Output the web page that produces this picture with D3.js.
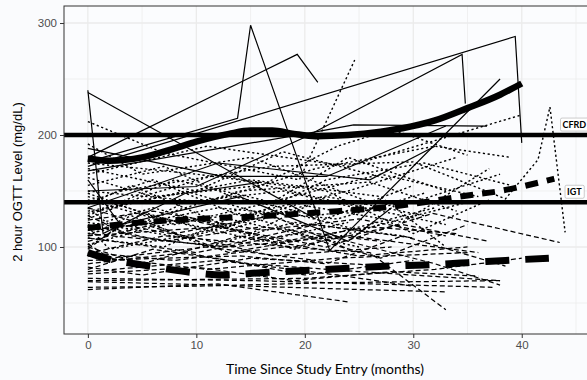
<!DOCTYPE html>
<html>
<head>
<meta charset="utf-8">
<script src="https://cdn.jsdelivr.net/npm/d3@7"></script>
<style>
  html, body { margin: 0; padding: 0; background: #fafbfd; }
  svg { display: block; }
</style>
</head>
<body>
<div id="chart"></div>
<script>
// axis ticks
const xTicks = [0, 10, 20, 30, 40];
const xMinorTicks = [5, 15, 25, 35, 45];
const yTicks = [100, 200, 300];
const yMinorTicks = [50, 150, 250];

// diagnostic cut-offs (mg/dL)
const cutoffNames = ['CFRD', 'IGT'];
const cutoffValues = [200, 140];
const cutoffLabelValues = [209, 149];

// individual trajectories, [months, mg/dL]
const cfrdSubjects = [
    [[0, 240], [1.4, 112], [9, 148], [16, 158]],
    [[0, 238], [21, 125]],
    [[0, 176], [13.8, 215], [15, 298], [22.3, 97], [38, 250]],
    [[0, 180], [19.3, 272], [21.2, 247]],
    [[0, 172], [39.4, 288], [40, 193]],
    [[0, 150], [10, 154], [20, 198], [34.5, 272], [34.8, 228]],
    [[0, 168], [20, 201], [24.5, 209], [36.8, 208]],
    [[0, 188], [12.4, 163], [22, 163], [25, 175], [33, 208]],
    [[0, 135], [12, 175], [26, 160], [32, 190]],
    [[0, 160], [3, 120], [14, 145], [24, 105], [28, 135]]
];

const igtSubjects = [
    [[0, 212], [7, 184], [19.5, 160], [24.6, 267]],
    [[0, 165], [11, 190], [24, 172], [40, 218]],
    [[3, 150], [17, 172], [30, 176], [38.5, 143], [41.5, 178], [42.6, 225], [44, 113]],
    [[0, 140], [6, 160], [14, 128], [24, 150], [34, 180]],
    [[0, 130], [9, 150], [20, 118], [30, 155]],
    [[0, 125], [5, 145], [12, 165], [23, 140], [33, 120]],
    [[0, 148], [8, 120], [16, 138], [27, 165], [36, 145]],
    [[0, 118], [6, 135], [15, 112], [22, 145], [31, 128]],
    [[0, 170], [10, 150], [18, 185], [28, 160]],
    [[0, 110], [4, 128], [11, 100], [19, 122], [29, 110]],
    [[0, 155], [7, 172], [13, 146], [21, 128], [30, 140], [38, 165]],
    [[0, 135], [3, 112], [9, 140], [18, 150], [26, 132]],
    [[0, 102], [6, 118], [14, 130], [21, 108], [32, 135]],
    [[0, 145], [12, 112], [20, 137], [29, 122], [37, 170]],
    [[0, 128], [8, 160], [17, 140], [24, 180], [33, 150]],
    [[0, 192], [5, 165], [15, 180], [26, 140]],
    [[0, 115], [10, 125], [19, 98], [27, 120]],
    [[0, 162], [6, 145], [16, 155], [23, 190], [28, 205], [35, 182]],
    [[0, 122], [9, 108], [18, 132], [25, 115], [35, 140]],
    [[0, 138], [4, 155], [13, 118], [22, 160], [31, 175], [39, 155]],
    [[0, 108], [7, 100], [13, 125], [25, 100]],
    [[0, 175], [10, 165], [22, 150], [30, 112], [37, 142]],
    [[0, 100], [5, 130], [16, 105], [24, 122]],
    [[0, 150], [11, 140], [21, 170], [32, 190], [39, 180]],
    [[0, 132], [15, 160], [27, 145], [33, 100]],
    [[0, 118], [2, 98], [10, 112], [20, 140]],
    [[0, 142], [6, 126], [14, 150], [26, 158], [34, 132]],
    [[0, 112], [12, 135], [23, 125], [31, 148]]
];

const ngtSubjects = [
    [[0, 72], [15, 70], [30, 66], [37.3, 64]],
    [[0, 69], [12, 66], [25, 62], [33, 60]],
    [[0, 64], [10, 65], [22, 68], [38, 70]],
    [[0, 62], [12, 67], [24, 51]],
    [[0, 95], [8, 88], [18, 100], [26, 95], [33, 44]],
    [[0, 80], [6, 98], [15, 85], [25, 78], [38, 70]],
    [[0, 110], [12, 118], [22, 100], [31.8, 130], [43.5, 104]],
    [[0, 100], [5, 85], [14, 110], [25, 92], [35, 100]],
    [[0, 85], [9, 95], [20, 75], [30, 88]],
    [[0, 120], [7, 105], [16, 118], [27, 105]],
    [[0, 105], [6, 120], [13, 95], [22, 110], [32, 85], [38, 66]],
    [[0, 92], [11, 80], [23, 90], [35, 95]],
    [[0, 128], [4, 110], [12, 100], [21, 120], [30, 108]],
    [[0, 76], [10, 82], [19, 70], [28, 78], [36, 74]],
    [[0, 98], [3, 120], [10, 108], [17, 92], [28, 100]],
    [[0, 115], [9, 125], [18, 105], [26, 118], [34, 112]],
    [[0, 88], [14, 92], [22, 85], [29, 110], [38.5, 83]],
    [[0, 135], [8, 112], [17, 128], [24, 98]],
    [[0, 82], [5, 75], [15, 90], [26, 84]],
    [[0, 108], [10, 95], [19, 112], [27, 90], [35, 120]],
    [[0, 70], [20, 72], [32, 80], [40, 90]],
    [[0, 124], [6, 132], [16, 115], [25, 125], [33, 110]],
    [[0, 94], [7, 110], [19, 100], [29, 120], [37, 105]],
    [[0, 78], [12, 88], [23, 75], [30, 65]],
    [[0, 103], [2, 90], [11, 100], [21, 88]],
    [[0, 112], [13, 100], [24, 110], [36, 95]]
];

// smoothed group means
const cfrdFitTime = [0, 2, 5, 8, 10, 13, 15, 17, 19, 21, 24, 27, 29, 32, 35, 38, 40];
const cfrdFitValue = [179, 177, 180, 188, 194, 201, 204, 204, 201, 199, 200, 203, 206, 213, 224, 236, 246];
const igtFitTime = [0, 5, 10, 15, 20, 23, 27, 31, 35, 38, 40, 43];
const igtFitValue = [117, 122, 125, 127, 130, 132, 135, 140, 146, 150, 154, 161];
const ngtFitTime = [0, 2, 5, 9, 12.5, 16, 20, 24, 28, 31, 35, 38.5, 42.5];
const ngtFitValue = [95, 89, 84, 78, 75, 77, 79, 81, 83, 84, 86, 88, 90];

const width = 587;
const height = 380;
const margin = { top: 6, right: -2, bottom: 46, left: 64 };

const x = d3.scaleLinear().domain([-2.2, 46.2]).range([margin.left, width - margin.right]);
const y = d3.scaleLinear().domain([22.3, 315.2]).range([height - margin.bottom, margin.top]);

const svg = d3
    .select('#chart')
    .append('svg')
    .attr('width', width)
    .attr('height', height)
    .attr('viewBox', [0, 0, width, height]);

svg.append('clipPath')
    .attr('id', 'panel-clip')
    .append('rect')
    .attr('x', margin.left)
    .attr('y', margin.top)
    .attr('width', width - margin.right - margin.left)
    .attr('height', height - margin.bottom - margin.top);

svg.append('rect')
    .attr('x', margin.left)
    .attr('y', margin.top)
    .attr('width', width - margin.right - margin.left)
    .attr('height', height - margin.bottom - margin.top)
    .attr('fill', '#fbfcfe');

// grid
const grid = svg.append('g').attr('stroke', '#ebebeb');
grid.selectAll('.vminor')
    .data(xMinorTicks)
    .join('line')
    .attr('x1', (d) => x(d)).attr('x2', (d) => x(d))
    .attr('y1', margin.top).attr('y2', height - margin.bottom)
    .attr('stroke-width', 0.7);
grid.selectAll('.hminor')
    .data(yMinorTicks)
    .join('line')
    .attr('x1', margin.left).attr('x2', width - margin.right)
    .attr('y1', (d) => y(d)).attr('y2', (d) => y(d))
    .attr('stroke-width', 0.7);
grid.selectAll('.vmajor')
    .data(xTicks)
    .join('line')
    .attr('x1', (d) => x(d)).attr('x2', (d) => x(d))
    .attr('y1', margin.top).attr('y2', height - margin.bottom)
    .attr('stroke-width', 1.3);
grid.selectAll('.hmajor')
    .data(yTicks)
    .join('line')
    .attr('x1', margin.left).attr('x2', width - margin.right)
    .attr('y1', (d) => y(d)).attr('y2', (d) => y(d))
    .attr('stroke-width', 1.3);

const plot = svg.append('g').attr('clip-path', 'url(#panel-clip)');

const line = d3.line().x((d) => x(d[0])).y((d) => y(d[1]));

const subjectGroups = [
    { subjects: ngtSubjects, dash: '5,3', w: 1.25 },
    { subjects: igtSubjects, dash: '2.2,2.6', w: 1.4 },
    { subjects: cfrdSubjects, dash: null, w: 1.2 }
];

subjectGroups.forEach((g) => {
    plot.append('g')
        .attr('fill', 'none')
        .attr('stroke', '#000')
        .attr('stroke-width', g.w)
        .attr('stroke-dasharray', g.dash)
        .selectAll('path')
        .data(g.subjects)
        .join('path')
        .attr('d', line);
});

// cut-off lines
plot.append('g')
    .selectAll('line')
    .data(cutoffValues)
    .join('line')
    .attr('x1', margin.left)
    .attr('x2', width - margin.right)
    .attr('y1', (d) => y(d))
    .attr('y2', (d) => y(d))
    .attr('stroke', '#000')
    .attr('stroke-width', 4.5);

const fitLine = d3.line().curve(d3.curveMonotoneX).x((d) => x(d[0])).y((d) => y(d[1]));
const fits = [
    { t: cfrdFitTime, v: cfrdFitValue, dash: null, w: 6.5 },
    { t: igtFitTime, v: igtFitValue, dash: '13,9', w: 6 },
    { t: ngtFitTime, v: ngtFitValue, dash: '24,16', w: 7 }
];
fits.forEach((f) => {
    plot.append('path')
        .datum(d3.zip(f.t, f.v))
        .attr('fill', 'none')
        .attr('stroke', '#000')
        .attr('stroke-width', f.w)
        .attr('stroke-dasharray', f.dash)
        .attr('d', fitLine);
});

// cut-off labels
const labels = svg.append('g')
    .selectAll('g')
    .data(d3.zip(cutoffNames, cutoffLabelValues))
    .join('g')
    .attr('transform', (d) => `translate(${x(44.85)},${y(d[1])})`);
labels.append('rect');
labels.append('text')
    .attr('text-anchor', 'middle')
    .attr('dy', '0.35em')
    .attr('font-family', 'Lato, sans-serif')
    .attr('font-weight', 'bold')
    .attr('font-size', 9)
    .text((d) => d[0]);
labels.each(function () {
    const g = d3.select(this);
    const b = g.select('text').node().getBBox();
    g.select('rect')
        .attr('x', b.x - 2)
        .attr('y', b.y - 1)
        .attr('width', b.width + 4)
        .attr('height', b.height + 2)
        .attr('rx', 1.5)
        .attr('fill', '#fff')
        .attr('stroke', '#999')
        .attr('stroke-width', 0.5);
});

// axes
svg.append('g')
    .attr('transform', `translate(${margin.left},0)`)
    .call(d3.axisLeft(y).tickValues(yTicks).tickSize(4).tickPadding(3))
    .call((g) => g.select('.domain').remove())
    .call((g) => g.selectAll('.tick line').attr('stroke', '#333'))
    .call((g) => g.selectAll('.tick text')
        .attr('fill', '#4d4d4d')
        .attr('font-size', 11.5)
        .attr('font-family', 'Liberation Sans, Arial, sans-serif'));

svg.append('g')
    .attr('transform', `translate(0,${height - margin.bottom})`)
    .call(d3.axisBottom(x).tickValues(xTicks).tickSize(4).tickPadding(3))
    .call((g) => g.select('.domain').remove())
    .call((g) => g.selectAll('.tick line').attr('stroke', '#333'))
    .call((g) => g.selectAll('.tick text')
        .attr('fill', '#4d4d4d')
        .attr('font-size', 11.5)
        .attr('font-family', 'Liberation Sans, Arial, sans-serif'));

// panel border
svg.append('rect')
    .attr('x', margin.left)
    .attr('y', margin.top)
    .attr('width', width - margin.right - margin.left)
    .attr('height', height - margin.bottom - margin.top)
    .attr('fill', 'none')
    .attr('stroke', '#333')
    .attr('stroke-width', 1);

svg.append('text')
    .attr('transform', 'translate(22,182) rotate(-90)')
    .attr('text-anchor', 'middle')
    .attr('font-family', 'Liberation Sans, Arial, sans-serif')
    .attr('font-size', 13)
    .text('2 hour OGTT Level (mg/dL)');

svg.append('text')
    .attr('x', 325)
    .attr('y', 374)
    .attr('text-anchor', 'middle')
    .attr('font-family', 'Lato, sans-serif')
    .attr('font-size', 14)
    .text('Time Since Study Entry (months)');
</script>
</body>
</html>
